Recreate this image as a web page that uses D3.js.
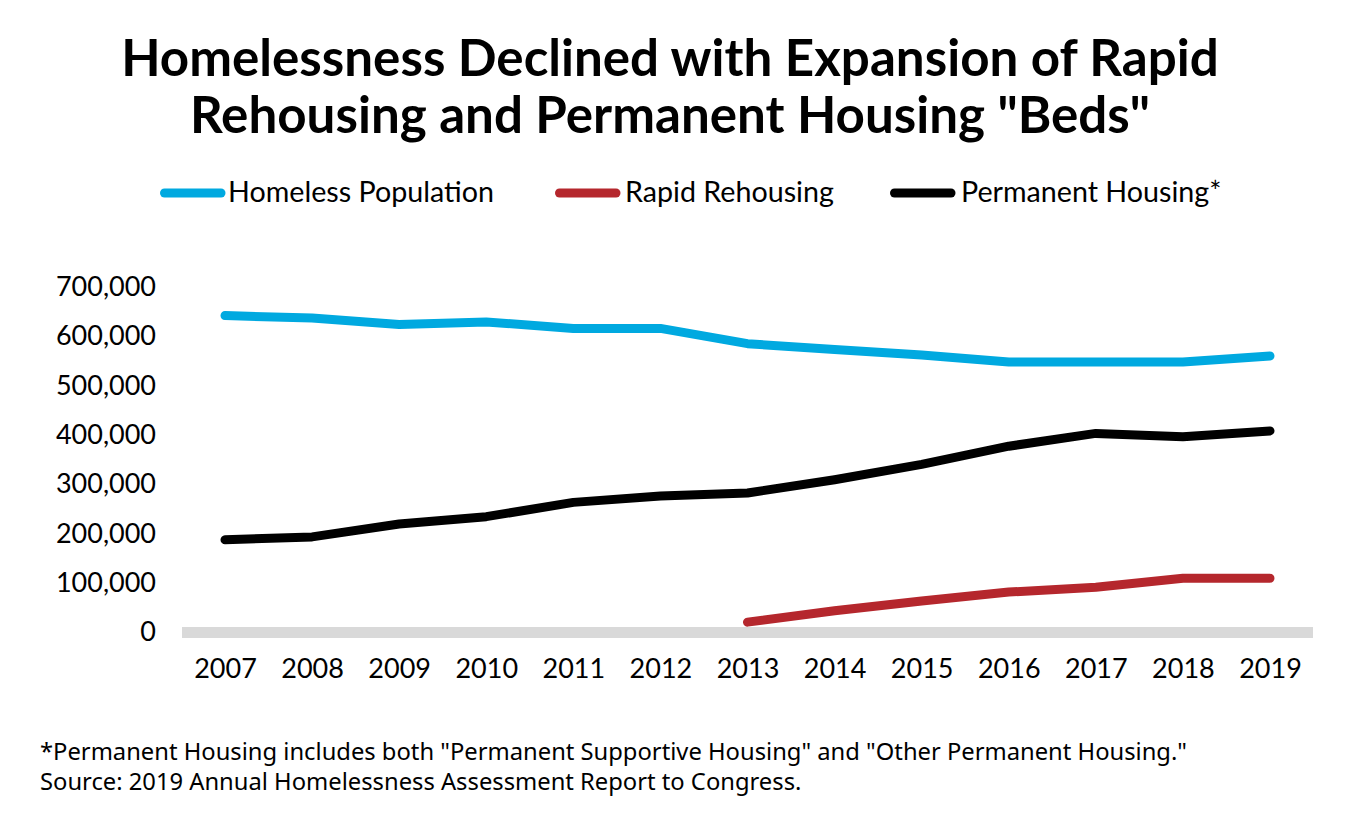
<!DOCTYPE html>
<html><head><meta charset="utf-8">
<script src="https://cdn.jsdelivr.net/npm/d3@7"></script>
<style>body{margin:0;background:#fff}svg{display:block}</style>
</head><body>
<svg id="chart" width="1355" height="834"></svg>
<script>
const years = [2007,2008,2009,2010,2011,2012,2013,2014,2015,2016,2017,2018,2019];
const homeless = [642000,637000,624000,629000,616000,616000,585000,573000,562000,548000,548000,548000,560000];
const rapid = [null,null,null,null,null,null,20000,43000,63000,81000,91000,109000,109000];
const permanent = [187000,193000,219000,234000,263000,276000,282000,309000,340000,377000,403000,396000,408000];
const yTicks = [0,100000,200000,300000,400000,500000,600000,700000];
const titleLines = ["Homelessness Declined with Expansion of Rapid", "Rehousing and Permanent Housing \"Beds\""];
const seriesNames = ["Homeless Population","Rapid Rehousing","Permanent Housing*"];
const notes = ["*Permanent Housing includes both \"Permanent Supportive Housing\" and \"Other Permanent Housing.\"","Source: 2019 Annual Homelessness Assessment Report to Congress."];

const colors = ["#00A9E0","#B5272D","#000000"];
const series = [homeless, rapid, permanent];
const svg = d3.select("#chart");
const font = "Lato, 'Noto Sans', sans-serif";
const noteFont = "'Noto Sans', 'Open Sans', sans-serif";

// fit a group of texts to target widths with one shared font size
function fitGroup(sel, widths, base) {
  sel.attr("font-size", base);
  const ratios = [];
  sel.each(function(d,i){ ratios.push(widths[i] / this.getComputedTextLength()); });
  const s = d3.mean(ratios) * base;
  sel.attr("font-size", s);
  return s;
}

// Title
const tl = [{t:titleLines[0], y:76, w:1090},{t:titleLines[1], y:133, w:967}];
const titles = svg.selectAll("text.title").data(tl).join("text")
  .attr("class","title").attr("x",670).attr("y",d=>d.y)
  .attr("text-anchor","middle")
  .attr("font-family",font).attr("font-weight","bold")
  .text(d=>d.t);
fitGroup(titles, tl.map(d=>d.w), 44);

// Legend
const leg = [{x:160, tx:228, tw:264},{x:555, tx:625, tw:210},{x:890, tx:961, tw:261}];
const lg = svg.selectAll("g.leg").data(seriesNames).join("g").attr("class","leg");
lg.append("line").attr("x1",(d,i)=>leg[i].x+4.5).attr("x2",(d,i)=>leg[i].x+61)
  .attr("y1",193).attr("y2",193).attr("stroke",(d,i)=>colors[i])
  .attr("stroke-width",9).attr("stroke-linecap","round");
const legTexts = lg.append("text").attr("x",(d,i)=>leg[i].tx).attr("y",202)
  .attr("font-family",font).attr("fill","#000")
  .text(d=>d);
fitGroup(legTexts, leg.map(d=>d.tw), 26);

// Scales
const x = d3.scalePoint().domain(years).range([225,1270]);
const y = d3.scaleLinear().domain([0,700000]).range([632,287]);

// Baseline band
svg.append("rect").attr("x",182).attr("width",1313-182)
  .attr("y",y(0)-5).attr("height",11).attr("fill","#D9D9D9");

// Y axis
const ya = svg.append("g").attr("transform","translate(156,0)")
  .call(d3.axisLeft(y).tickValues(yTicks).tickFormat(d3.format(",")).tickSize(0).tickPadding(0));
ya.select(".domain").remove();
ya.selectAll("text").attr("font-family",font).attr("font-size",27).attr("fill","#000");

// X axis
const xa = svg.append("g").attr("transform","translate(0,650)")
  .call(d3.axisBottom(x).tickFormat(d3.format("d")).tickSize(0).tickPadding(0));
xa.select(".domain").remove();
xa.selectAll("text").attr("font-family",font).attr("font-size",27).attr("fill","#000").attr("dy","1.05em");

// Lines
const line = d3.line().defined(d=>d!=null).x((d,i)=>x(years[i])).y(d=>y(d));
svg.selectAll("path.series").data(series).join("path").attr("class","series")
  .attr("d",d=>line(d)).attr("fill","none")
  .attr("stroke",(d,i)=>colors[i]).attr("stroke-width",9)
  .attr("stroke-linecap","round").attr("stroke-linejoin","round");

// Footnotes
const nl = [{y:760,w:1143},{y:790,w:765}];
const noteTexts = svg.selectAll("text.note").data(notes).join("text").attr("class","note")
  .attr("x",40).attr("y",(d,i)=>nl[i].y)
  .attr("font-family",noteFont).attr("fill","#000")
  .text(d=>d);
fitGroup(noteTexts, nl.map(d=>d.w), 21);
</script>
</body></html>
